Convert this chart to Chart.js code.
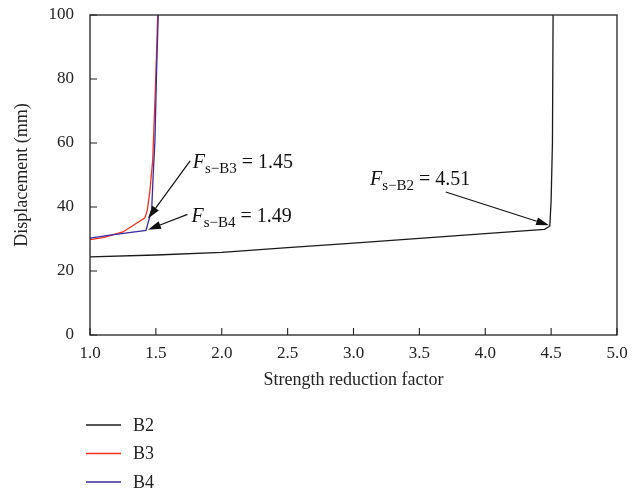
<!DOCTYPE html>
<html>
<head>
<meta charset="utf-8">
<script src="https://cdn.jsdelivr.net/npm/chart.js@4.4.1/dist/chart.umd.min.js"></script>
<style>
  html, body { margin: 0; padding: 0; background: #fff; }
  #wrap { width: 642px; height: 492px; position: relative; }
</style>
</head>
<body>
<div id="wrap"><canvas id="c" width="642" height="492"></canvas></div>
<script>
// ---- data ----
const seriesNames = ['B2', 'B3', 'B4'];
const factorB2 = [1.0, 1.5, 2.0, 2.5, 3.0, 3.5, 4.0, 4.45, 4.49, 4.50, 4.51, 4.515];
const dispB2   = [24.4, 25.0, 25.8, 27.3, 28.7, 30.2, 31.7, 33.0, 34.0, 42.0, 60.0, 100];
const factorB3 = [1.0, 1.10, 1.25, 1.33, 1.417, 1.435, 1.455, 1.476, 1.493, 1.506, 1.514];
const dispB3   = [29.8, 30.4, 32.2, 34.3, 36.6, 39.0, 45.2, 54.6, 73.3, 89.0, 100];
const factorB4 = [1.0, 1.152, 1.425, 1.468, 1.48, 1.493, 1.506, 1.518];
const dispB4   = [30.3, 31.2, 32.7, 39.0, 50.4, 60.8, 83.7, 100];
const xTicks = [1.0, 1.5, 2.0, 2.5, 3.0, 3.5, 4.0, 4.5, 5.0];
const yTicks = [0, 20, 40, 60, 80, 100];
// annotations: label text and value, with label/arrow anchor points in data units
const annoSub   = ['s\u2212B3', 's\u2212B4', 's\u2212B2'];
const annoValue = ['1.45', '1.49', '4.51'];
const annoLabelX = [1.78, 1.77, 3.125];
const annoLabelY = [52.1, 35.3, 46.8];
const annoFromX  = [1.76, 1.74, 3.70];
const annoFromY  = [54.4, 37.7, 44.7];
const annoToX    = [1.44, 1.44, 4.485];
const annoToY    = [36.4, 32.9, 34.3];

const colors = ['#1a1a1a', '#f2311f', '#3b2a9e'];
const FONT = "'Liberation Serif', 'Times New Roman', serif";

function pts(xs, ys) { return xs.map((x, i) => ({ x: x, y: ys[i] })); }

const framePlugin = {
  id: 'frame',
  afterDraw(chart) {
    const ctx = chart.ctx;
    const a = chart.chartArea;
    const xs = chart.scales.x, ys = chart.scales.y;
    ctx.save();
    ctx.strokeStyle = '#222';
    ctx.lineWidth = 1.3;
    ctx.strokeRect(a.left, a.top, a.right - a.left, a.bottom - a.top);
    // inward ticks
    ctx.lineWidth = 1.1;
    ctx.beginPath();
    xTicks.forEach(v => {
      const px = xs.getPixelForValue(v);
      ctx.moveTo(px, a.bottom); ctx.lineTo(px, a.bottom - 7);
    });
    yTicks.forEach(v => {
      const py = ys.getPixelForValue(v);
      ctx.moveTo(a.left, py); ctx.lineTo(a.left + 7, py);
    });
    ctx.stroke();

    // annotations
    for (let i = 0; i < annoSub.length; i++) {
      const fx = xs.getPixelForValue(annoFromX[i]), fy = ys.getPixelForValue(annoFromY[i]);
      const tx = xs.getPixelForValue(annoToX[i]), ty = ys.getPixelForValue(annoToY[i]);
      const ang = Math.atan2(ty - fy, tx - fx);
      const hl = 13, hw = 4;
      const bx = tx - hl * Math.cos(ang), by = ty - hl * Math.sin(ang);
      ctx.strokeStyle = '#111';
      ctx.fillStyle = '#111';
      ctx.lineWidth = 1.2;
      ctx.beginPath();
      ctx.moveTo(fx, fy); ctx.lineTo(bx, by);
      ctx.stroke();
      ctx.beginPath();
      ctx.moveTo(tx, ty);
      ctx.lineTo(bx + hw * Math.sin(ang), by - hw * Math.cos(ang));
      ctx.lineTo(bx - hw * Math.sin(ang), by + hw * Math.cos(ang));
      ctx.closePath();
      ctx.fill();

      let lx = xs.getPixelForValue(annoLabelX[i]);
      const ly = ys.getPixelForValue(annoLabelY[i]);
      ctx.textBaseline = 'alphabetic';
      ctx.textAlign = 'left';
      ctx.fillStyle = '#111';
      ctx.font = 'italic 20px ' + FONT;
      ctx.fillText('F', lx, ly);
      lx += ctx.measureText('F').width;
      ctx.font = '15px ' + FONT;
      ctx.fillText(annoSub[i], lx, ly + 5);
      lx += ctx.measureText(annoSub[i]).width;
      ctx.font = '20px ' + FONT;
      ctx.fillText(' = ' + annoValue[i], lx, ly);
    }

    // legend (vertical, bottom-left)
    ctx.font = '18px ' + FONT;
    ctx.textBaseline = 'middle';
    chart.data.datasets.forEach((ds, i) => {
      const y = 425 + i * 28.5;
      ctx.strokeStyle = ds.borderColor;
      ctx.lineWidth = 1.3;
      ctx.beginPath();
      ctx.moveTo(86, y); ctx.lineTo(121, y);
      ctx.stroke();
      ctx.fillStyle = '#222';
      ctx.fillText(ds.label, 133, y + 1);
    });
    ctx.restore();
  }
};

new Chart(document.getElementById('c'), {
  type: 'scatter',
  data: {
    datasets: [
      { label: seriesNames[0], data: pts(factorB2, dispB2), borderColor: colors[0], order: 2 },
      { label: seriesNames[1], data: pts(factorB3, dispB3), borderColor: colors[1], order: 1 },
      { label: seriesNames[2], data: pts(factorB4, dispB4), borderColor: colors[2], order: 0 }
    ].map(d => Object.assign(d, { showLine: true, pointRadius: 0, borderWidth: 1.3, fill: false, tension: 0 }))
  },
  options: {
    responsive: false,
    animation: false,
    devicePixelRatio: 1,
    layout: { padding: { top: 15, right: 25, left: 0, bottom: 97 } },
    plugins: { legend: { display: false }, tooltip: { enabled: false } },
    scales: {
      x: {
        type: 'linear', min: 1, max: 5,
        afterBuildTicks: s => { s.ticks = xTicks.map(v => ({ value: v })); },
        afterFit: s => { s.height = 60; s.paddingLeft = 0; s.paddingRight = 0; },
        grid: { display: false, drawTicks: false },
        border: { display: false },
        ticks: { color: '#222', padding: 8, font: { family: FONT, size: 17 }, callback: v => v.toFixed(1) },
        title: { display: true, text: 'Strength reduction factor', color: '#222', font: { family: FONT, size: 18 }, padding: { top: 10 } }
      },
      y: {
        type: 'linear', min: 0, max: 100,
        afterBuildTicks: s => { s.ticks = yTicks.map(v => ({ value: v })); },
        afterFit: s => { s.width = 90; s.paddingTop = 0; s.paddingBottom = 0; },
        grid: { display: false, drawTicks: false },
        border: { display: false },
        ticks: { color: '#222', padding: 16, font: { family: FONT, size: 17 } },
        title: { display: true, text: 'Displacement (mm)', color: '#222', font: { family: FONT, size: 18 }, padding: { top: 11, bottom: 6 } }
      }
    }
  },
  plugins: [framePlugin]
});
</script>
</body>
</html>
